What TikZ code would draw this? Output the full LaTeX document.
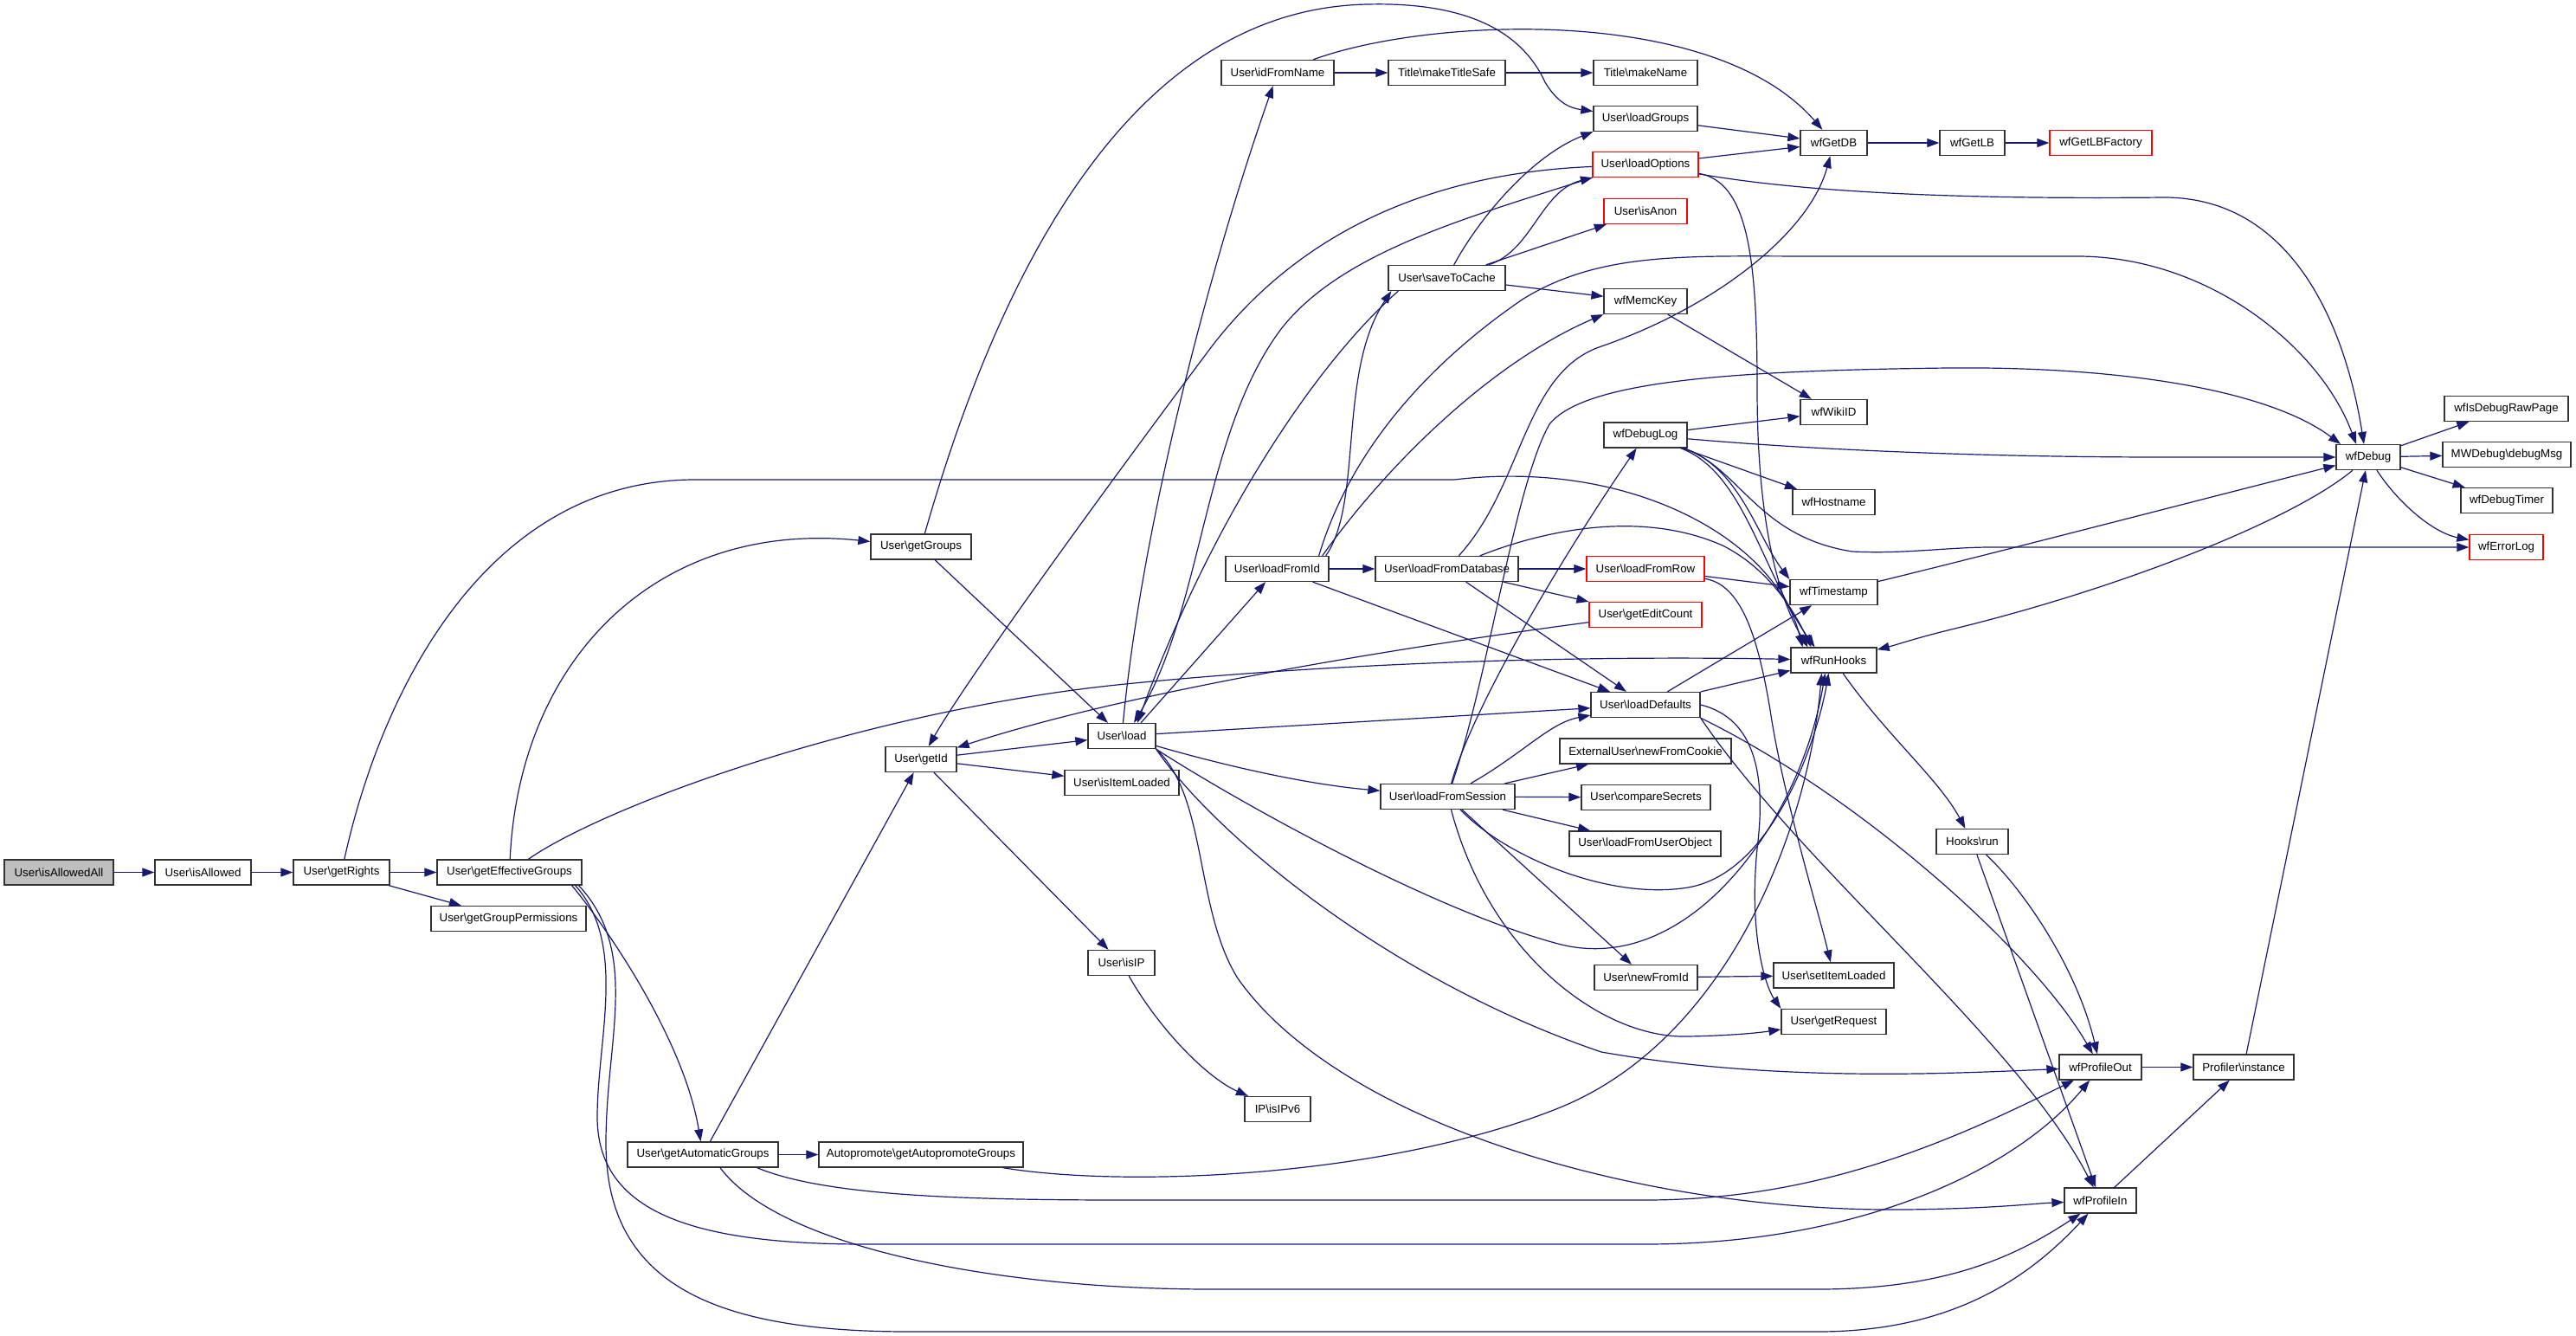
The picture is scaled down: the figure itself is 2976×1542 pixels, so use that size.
\documentclass[tikz,border=0pt]{standalone}
\usepackage{fontspec}
\setmainfont{Liberation Sans}
\usetikzlibrary{arrows.meta,calc}
\definecolor{navyline}{HTML}{191970}
\definecolor{rootgray}{HTML}{BFBFBF}
\newcommand{\bsl}{\textbackslash}
\tikzset{
    fn/.style={draw=black!80, line width=1.3pt, fill=white, minimum height=29pt, inner sep=0pt, font=\fontsize{13.3}{16}\selectfont},
    fnred/.style={fn, draw=red},
    fnroot/.style={fn, fill=rootgray},
    call/.style={navyline, line width=1.2pt, -{Triangle[length=14pt,width=10pt]}},
  }
\begin{document}
\begin{tikzpicture}[x=1pt,y=-1pt]
  \useasboundingbox (0,0) rectangle (2976,1542);
  % functions, left to right
  \node[fnroot, minimum width=126] (isAllowedAll) at (68,1007.5) {User\bsl isAllowedAll};
  \node[fn, minimum width=111] (isAllowed) at (234.5,1007.5) {User\bsl isAllowed};
  \node[fn, minimum width=111] (getRights) at (394.5,1007.5) {User\bsl getRights};
  \node[fn, minimum width=167] (getEffGroups) at (588.5,1007.5) {User\bsl getEffectiveGroups};
  \node[fn, minimum width=179] (getGroupPerms) at (587.5,1061) {User\bsl getGroupPermissions};
  \node[fn, minimum width=116] (getGroups) at (1064,631.5) {User\bsl getGroups};
  \node[fn, minimum width=174] (getAutoGroups) at (812,1333.5) {User\bsl getAutomaticGroups};
  \node[fn, minimum width=236] (getAutopromote) at (1064,1333.5) {Autopromote\bsl getAutopromoteGroups};
  \node[fn, minimum width=82] (getId) at (1064,877) {User\bsl getId};
  \node[fn, minimum width=78] (load) at (1296,850) {User\bsl load};
  \node[fn, minimum width=132] (isItemLoaded) at (1296,904) {User\bsl isItemLoaded};
  \node[fn, minimum width=77] (isIP) at (1295.5,1112) {User\bsl isIP};
  \node[fn, minimum width=76] (isIPv6) at (1476,1281) {IP\bsl isIPv6};
  \node[fn, minimum width=130] (idFromName) at (1476,84) {User\bsl idFromName};
  \node[fn, minimum width=119] (loadFromId) at (1475.5,657) {User\bsl loadFromId};
  \node[fn, minimum width=135] (makeTitleSafe) at (1671.5,84) {Title\bsl makeTitleSafe};
  \node[fn, minimum width=135] (saveToCache) at (1671.5,321) {User\bsl saveToCache};
  \node[fn, minimum width=165] (loadFromDatabase) at (1671.5,657) {User\bsl loadFromDatabase};
  \node[fn, minimum width=155] (loadFromSession) at (1672.5,920) {User\bsl loadFromSession};
  \node[fn, minimum width=120] (makeName) at (1901,84) {Title\bsl makeName};
  \node[fn, minimum width=120] (loadGroups) at (1901,137) {User\bsl loadGroups};
  \node[fnred, minimum width=122] (loadOptions) at (1901,190) {User\bsl loadOptions};
  \node[fnred, minimum width=96] (isAnon) at (1901,244) {User\bsl isAnon};
  \node[fn, minimum width=96] (wfMemcKey) at (1901,348) {wfMemcKey};
  \node[fn, minimum width=96] (wfDebugLog) at (1901,502.5) {wfDebugLog};
  \node[fnred, minimum width=136] (loadFromRow) at (1901,657) {User\bsl loadFromRow};
  \node[fnred, minimum width=130] (getEditCount) at (1901,710) {User\bsl getEditCount};
  \node[fn, minimum width=126] (loadDefaults) at (1901,814) {User\bsl loadDefaults};
  \node[fn, minimum width=198] (newFromCookie) at (1901,867.5) {ExternalUser\bsl newFromCookie};
  \node[fn, minimum width=149] (compareSecrets) at (1901.5,921) {User\bsl compareSecrets};
  \node[fn, minimum width=175] (loadFromUserObject) at (1900.5,974.5) {User\bsl loadFromUserObject};
  \node[fn, minimum width=119] (newFromId) at (1901.5,1129) {User\bsl newFromId};
  \node[fn, minimum width=77] (wfGetDB) at (2118.5,165) {wfGetDB};
  \node[fn, minimum width=77] (wfWikiID) at (2118.5,476) {wfWikiID};
  \node[fn, minimum width=95] (wfHostname) at (2118.5,580) {wfHostname};
  \node[fn, minimum width=101] (wfTimestamp) at (2118.5,684) {wfTimestamp};
  \node[fn, minimum width=99] (wfRunHooks) at (2118.5,762.5) {wfRunHooks};
  \node[fn, minimum width=139] (setItemLoaded) at (2118.5,1126.5) {User\bsl setItemLoaded};
  \node[fn, minimum width=121] (getRequest) at (2118.5,1180) {User\bsl getRequest};
  \node[fn, minimum width=75] (wfGetLB) at (2278.5,165) {wfGetLB};
  \node[fn, minimum width=83] (HooksRun) at (2278.5,972) {Hooks\bsl run};
  \node[fn, minimum width=95] (wfProfileOut) at (2426.5,1232.5) {wfProfileOut};
  \node[fn, minimum width=83] (wfProfileIn) at (2426.5,1386.5) {wfProfileIn};
  \node[fnred, minimum width=118] (wfGetLBFactory) at (2427,165) {wfGetLBFactory};
  \node[fn, minimum width=116] (ProfilerInst) at (2592,1232.5) {Profiler\bsl instance};
  \node[fn, minimum width=74] (wfDebug) at (2736,528) {wfDebug};
  \node[fn, minimum width=143] (wfIsDebugRawPage) at (2895.5,472) {wfIsDebugRawPage};
  \node[fn, minimum width=148] (debugMsg) at (2896,525) {MWDebug\bsl debugMsg};
  \node[fn, minimum width=106] (wfDebugTimer) at (2896,578) {wfDebugTimer};
  \node[fnred, minimum width=85] (wfErrorLog) at (2895.5,632) {wfErrorLog};

  % calls
  \draw[call] (isAllowedAll) -- (isAllowed);
  \draw[call] (isAllowed) -- (getRights);
  \draw[call] (getRights) -- (getEffGroups);
  \draw[call] (getRights) -- (getGroupPerms);
  \draw[call] (getRights) .. controls (440,800) and (560,556) .. (800,554) -- (1680,554) .. controls (1880,530) and (2050,620) .. ([xshift=-36pt]wfRunHooks.north);

  \draw[call] (getEffGroups) .. controls (600,760) and (760,600) .. (getGroups);
  \draw[call] (getEffGroups) .. controls (700,930) and (1000,820) .. (1300,790) .. controls (1600,760) and (1900,758) .. (wfRunHooks);
  \draw[call] ([xshift=-12pt]getEffGroups.south east) .. controls (700,1070) and (790,1200) .. (getAutoGroups);
  \draw[call] ([xshift=-8pt]getEffGroups.south east) .. controls (725,1090) and (690,1200) .. (690,1290) .. controls (690,1400) and (800,1437) .. (1000,1437) -- (1900,1437) .. controls (2150,1437) and (2330,1350) .. (wfProfileOut);
  \draw[call] ([xshift=-4pt]getEffGroups.south east) .. controls (740,1100) and (700,1200) .. (700,1320) .. controls (700,1480) and (820,1538) .. (1050,1538) -- (2100,1538) .. controls (2250,1538) and (2340,1480) .. (wfProfileIn);

  \draw[call] (getAutoGroups) -- (getId);
  \draw[call] (getAutoGroups) -- (getAutopromote);
  \draw[call] ([xshift=-25pt]getAutoGroups.south east) .. controls (950,1380) and (1100,1386) .. (1300,1386) -- (1900,1386) .. controls (2100,1386) and (2250,1320) .. (wfProfileOut);
  \draw[call] ([xshift=20pt]getAutoGroups.south) .. controls (900,1440) and (1150,1489) .. (1400,1489) -- (2100,1489) .. controls (2250,1489) and (2330,1450) .. (wfProfileIn);
  \draw[call] ([xshift=-24pt]getAutopromote.south east) .. controls (1300,1372) and (1600,1360) .. (1800,1280) .. controls (2000,1200) and (2090,950) .. ([xshift=-14pt]wfRunHooks.south);

  \draw[call] (getGroups) -- (load);
  \draw[call] (getGroups) .. controls (1150,330) and (1300,10) .. (1580,5) .. controls (1700,2) and (1760,40) .. (1785,95) .. controls (1800,120) and (1815,125) .. (loadGroups);

  \draw[call] (getId) -- (load);
  \draw[call] (getId) -- (isItemLoaded);
  \draw[call] (getId) -- (isIP);
  \draw[call] (isIP) .. controls (1340,1190) and (1395,1245) .. (isIPv6);

  \draw[call] (load) .. controls (1320,600) and (1400,300) .. (idFromName);
  \draw[call] ([xshift=22pt]load.north) -- (loadFromId);
  \draw[call] (load) .. controls (1400,880) and (1500,905) .. (loadFromSession);
  \draw[call] (load) -- (loadDefaults);
  \draw[call] (load.south east) .. controls (1420,920) and (1650,1050) .. (1800,1090) .. controls (1950,1130) and (2080,950) .. ([xshift=-10pt]wfRunHooks.south);
  \draw[call] (load.south east) .. controls (1400,960) and (1600,1130) .. (1850,1215) .. controls (2050,1250) and (2250,1240) .. (wfProfileOut);
  \draw[call] (load.south east) .. controls (1395,920) and (1380,1050) .. (1430,1130) .. controls (1550,1300) and (1900,1400) .. (2200,1397) .. controls (2300,1396) and (2350,1390) .. (wfProfileIn);

  \draw[call] ([xshift=12pt]saveToCache.south west) .. controls (1520,420) and (1400,600) .. ([xshift=18pt]load.north);
  \draw[call] (loadOptions.south west) .. controls (1700,250) and (1550,290) .. (1480,380) .. controls (1390,500) and (1390,700) .. ([xshift=14pt]load.north);
  \draw[call] (loadOptions) .. controls (1650,200) and (1500,270) .. (1400,400) .. controls (1280,560) and (1120,780) .. (getId);
  \draw[call] (loadOptions) -- (wfGetDB);
  \draw[call] (loadOptions) .. controls (2100,225) and (2300,230) .. (2500,228) .. controls (2650,228) and (2710,380) .. ([xshift=-5pt]wfDebug.north);
  \draw[call] (loadOptions) .. controls (2020,210) and (2030,300) .. (2030,450) .. controls (2030,620) and (2060,700) .. ([xshift=-30pt]wfRunHooks.north);
  \draw[call] (loadGroups) -- (wfGetDB);

  \draw[call] (saveToCache) .. controls (1710,250) and (1770,180) .. (loadGroups.south west);
  \draw[call] (saveToCache) .. controls (1770,290) and (1780,220) .. (loadOptions);
  \draw[call] (saveToCache) -- (isAnon);
  \draw[call] (saveToCache) -- (wfMemcKey);

  \draw[call] (loadFromId) -- (loadFromDatabase);
  \draw[call] (loadFromId) -- (loadDefaults);
  \draw[call] ([xshift=-4pt]loadFromId.north east) .. controls (1575,580) and (1545,430) .. ([xshift=4pt]saveToCache.south west);
  \draw[call] ([xshift=-8pt]loadFromId.north east) .. controls (1600,540) and (1720,420) .. (wfMemcKey.south west);
  \draw[call] ([xshift=-12pt]loadFromId.north east) .. controls (1560,520) and (1650,420) .. (1760,345) .. controls (1850,290) and (1950,296) .. (2100,296) -- (2400,296) .. controls (2550,296) and (2680,400) .. ([xshift=-14pt]wfDebug.north);

  \draw[call] (loadFromDatabase) -- (loadFromRow);
  \draw[call] (loadFromDatabase) -- (getEditCount);
  \draw[call] (loadFromDatabase) -- (loadDefaults);
  \draw[call] (loadFromDatabase) .. controls (1760,560) and (1760,430) .. (1850,400) .. controls (1980,355) and (2090,270) .. (wfGetDB);
  \draw[call] (loadFromDatabase) .. controls (1790,610) and (1900,590) .. (1990,630) .. controls (2040,655) and (2070,700) .. ([xshift=-26pt]wfRunHooks.north);

  \draw[call] (loadFromRow) -- (wfTimestamp);
  \draw[call] (loadFromRow) .. controls (2010,675) and (2030,730) .. (2045,820) .. controls (2060,920) and (2100,1050) .. (setItemLoaded);
  \draw[call] (getEditCount) .. controls (1600,750) and (1300,800) .. (getId);

  \draw[call] (loadFromSession) .. controls (1760,870) and (1790,835) .. (loadDefaults);
  \draw[call] (loadFromSession) -- (newFromCookie);
  \draw[call] (loadFromSession) -- (compareSecrets);
  \draw[call] (loadFromSession) -- (loadFromUserObject);
  \draw[call] (loadFromSession) -- (newFromId);
  \draw[call] (loadFromSession) .. controls (1720,1100) and (1850,1200) .. (1950,1197) .. controls (2000,1196) and (2030,1193) .. (getRequest);
  \draw[call] (loadFromSession) .. controls (1740,990) and (1860,1040) .. (1950,1025) .. controls (2050,1008) and (2100,850) .. ([xshift=-6pt]wfRunHooks.south);
  \draw[call] (loadFromSession) .. controls (1700,820) and (1800,650) .. (wfDebugLog);
  \draw[call] (loadFromSession) .. controls (1720,780) and (1750,560) .. (1790,490) .. controls (1830,440) and (2000,428) .. (2250,425) .. controls (2450,423) and (2620,450) .. ([xshift=-32pt]wfDebug.north);

  \draw[call] (loadDefaults) -- (wfTimestamp);
  \draw[call] (loadDefaults) -- (wfRunHooks);
  \draw[call] (loadDefaults.south east) .. controls (2150,920) and (2350,1100) .. (wfProfileOut);
  \draw[call] (loadDefaults.south east) .. controls (2080,1000) and (2330,1200) .. (wfProfileIn);
  \draw[call] (loadDefaults.east) .. controls (2030,830) and (2040,900) .. (2030,980) .. controls (2020,1080) and (2040,1140) .. (getRequest.north west);
  \draw[call] (newFromId) -- (setItemLoaded);

  \draw[call] (idFromName) -- (makeTitleSafe);
  \draw[call] (makeTitleSafe) -- (makeName);
  \draw[call] (idFromName) .. controls (1650,20) and (1980,5) .. (wfGetDB);
  \draw[call] (wfGetDB) -- (wfGetLB);
  \draw[call] (wfGetLB) -- (wfGetLBFactory);
  \draw[call] (wfMemcKey) -- (wfWikiID);

  \draw[call] (wfDebugLog) -- (wfWikiID);
  \draw[call] (wfDebugLog) .. controls (2100,520) and (2300,528) .. (2500,528) -- (wfDebug);
  \draw[call] (wfDebugLog) -- (wfHostname);
  \draw[call] (wfDebugLog) .. controls (2010,540) and (2030,620) .. (wfTimestamp.north west);
  \draw[call] (wfDebugLog) .. controls (2015,545) and (2035,660) .. ([xshift=-22pt]wfRunHooks.north);
  \draw[call] (wfDebugLog) .. controls (2010,540) and (2030,620) .. (2140,637) .. controls (2200,640) and (2250,632) .. (2300,632) -- (wfErrorLog);
  \draw[call] (wfTimestamp) .. controls (2300,640) and (2550,575) .. (wfDebug);

  \draw[call] (wfRunHooks) .. controls (2180,850) and (2240,900) .. (HooksRun);
  \draw[call] (wfDebug) .. controls (2650,600) and (2450,680) .. (2250,728) .. controls (2210,738) and (2190,745) .. (wfRunHooks);
  \draw[call] (HooksRun) .. controls (2340,1030) and (2400,1120) .. (wfProfileOut);
  \draw[call] (HooksRun) -- (wfProfileIn);
  \draw[call] (wfProfileOut) -- (ProfilerInst);
  \draw[call] (wfProfileIn) -- (ProfilerInst);
  \draw[call] (ProfilerInst) -- (wfDebug);

  \draw[call] (wfDebug) -- (wfIsDebugRawPage);
  \draw[call] (wfDebug) -- (debugMsg);
  \draw[call] (wfDebug) -- (wfDebugTimer);
  \draw[call] (wfDebug) .. controls (2770,580) and (2810,615) .. (wfErrorLog);
\end{tikzpicture}
\end{document}
